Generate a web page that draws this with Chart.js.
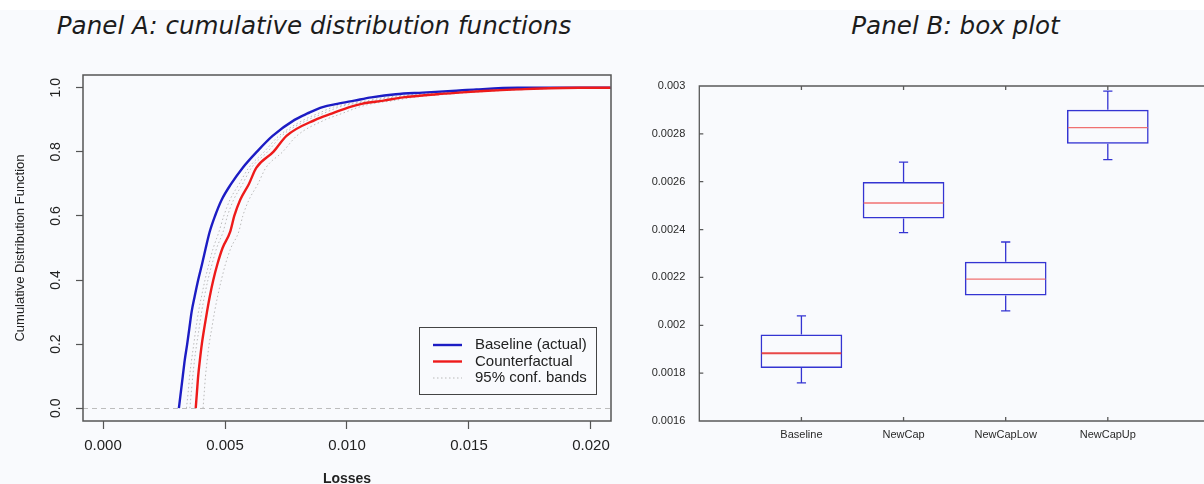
<!DOCTYPE html>
<html>
<head>
<meta charset="utf-8">
<script src="https://cdn.jsdelivr.net/npm/chart.js@4/dist/chart.umd.min.js"></script>
<style>
  html, body { margin: 0; padding: 0; width: 1204px; height: 484px; overflow: hidden; background: #f9fafd; }
  .strip { position: absolute; left: 0; top: 0; width: 1204px; height: 10px; background: #ffffff; }
  .panel-title { position: absolute; top: 10.5px; font-family: 'DejaVu Sans'; font-style: italic; font-size: 24.6px;
                 color: #1c1c1c; white-space: nowrap; transform: translateX(-50%); line-height: normal; }
  #wrapA { position: absolute; left: 0; top: 0; width: 620px; height: 488px; }
  #wrapB { position: absolute; left: 620px; top: 0; width: 641px; height: 484px; }
</style>
</head>
<body>
<div class="strip"></div>
<div class="panel-title" style="left:314px">Panel A: cumulative distribution functions</div>
<div class="panel-title" style="left:955.5px">Panel B: box plot</div>
<div id="wrapA"><canvas id="cdfChart" width="620" height="488"></canvas></div>
<div id="wrapB"><canvas id="boxChart" width="641" height="484"></canvas></div>

<script>
// ---- Panel A: empirical CDFs of losses ----
const cdfLevels = [0, 0.05, 0.1, 0.15, 0.2, 0.25, 0.3, 0.35, 0.4, 0.45, 0.5, 0.55, 0.6, 0.65, 0.7,
                   0.75, 0.8, 0.85, 0.9, 0.92, 0.94, 0.95, 0.96, 0.97, 0.98, 0.985, 0.99, 0.995, 1, 1];
const baselineLosses = [0.00311, 0.00319, 0.00327, 0.00335, 0.00345, 0.00354, 0.00363, 0.00376, 0.00390, 0.00406,
                        0.00421, 0.00437, 0.00459, 0.00486, 0.00525, 0.00572, 0.00630, 0.00695, 0.00785, 0.00838,
                        0.00900, 0.00960, 0.01030, 0.01100, 0.01200, 0.01310, 0.01430, 0.01530, 0.01700, 0.02080];
const counterfactualLosses = [0.00380, 0.00385, 0.00390, 0.00397, 0.00405, 0.00415, 0.00426, 0.00438, 0.00452, 0.00469,
                              0.00490, 0.00521, 0.00538, 0.00562, 0.00598, 0.00628, 0.00698, 0.00752, 0.00870, 0.00940,
                              0.01010, 0.01060, 0.01150, 0.01230, 0.01370, 0.01460, 0.01560, 0.01700, 0.01950, 0.02080];
const bandInnerLosses = [0.00342, 0.00349, 0.00355, 0.00363, 0.00372, 0.00381, 0.00391, 0.00404, 0.00418, 0.00434,
                         0.00452, 0.00475, 0.00495, 0.00520, 0.00558, 0.00597, 0.00660, 0.00721, 0.00823, 0.00882,
                         0.00944, 0.01005, 0.01084, 0.01159, 0.01277, 0.01378, 0.01489, 0.01607, 0.01813, 0.02080];
const bandMiddleLosses = [0.00356, 0.00362, 0.00368, 0.00375, 0.00384, 0.00394, 0.00404, 0.00416, 0.00430, 0.00447,
                          0.00466, 0.00492, 0.00510, 0.00535, 0.00572, 0.00608, 0.00674, 0.00732, 0.00840, 0.00903,
                          0.00968, 0.01025, 0.01108, 0.01185, 0.01311, 0.01408, 0.01515, 0.01641, 0.01863, 0.02080];
const bandOuterLosses = [0.00410, 0.00415, 0.00420, 0.00427, 0.00435, 0.00446, 0.00457, 0.00470, 0.00485, 0.00502,
                         0.00524, 0.00556, 0.00573, 0.00598, 0.00635, 0.00667, 0.00736, 0.00794, 0.00910, 0.00980,
                         0.01050, 0.01100, 0.01190, 0.01270, 0.01410, 0.01500, 0.01600, 0.01740, 0.02000, 0.02080];

const lossTicks = [0, 0.005, 0.01, 0.015, 0.02];
const lossTickLabels = ['0.000', '0.005', '0.010', '0.015', '0.020'];
const cdfTicks = [0, 0.2, 0.4, 0.6, 0.8, 1];
const cdfTickLabels = ['0.0', '0.2', '0.4', '0.6', '0.8', '1.0'];

// ---- Panel B: box plot summaries ----
const groups = ['Baseline', 'NewCap', 'NewCapLow', 'NewCapUp'];
const whiskerLow = [0.001759, 0.002387, 0.002060, 0.002692];
const quartile1 = [0.001822, 0.002446, 0.002125, 0.002759];
const medians = [0.001883, 0.002511, 0.002193, 0.002826];
const quartile3 = [0.001961, 0.002599, 0.002266, 0.002901];
const whiskerHigh = [0.002039, 0.002682, 0.002348, 0.002979];
const valueTicks = [0.0016, 0.0018, 0.002, 0.0022, 0.0024, 0.0026, 0.0028, 0.003];
const valueTickLabels = ['0.0016', '0.0018', '0.002', '0.0022', '0.0024', '0.0026', '0.0028', '0.003'];

Chart.defaults.font.family = "'Liberation Sans', Arial, sans-serif";
Chart.defaults.color = '#222';

const toPoints = (xs) => xs.map((x, i) => ({ x: x, y: cdfLevels[i] }));

// R-style frame around the plotting region
const framePlugin = {
  id: 'frame',
  afterDraw(chart) {
    const { ctx, chartArea: a } = chart;
    ctx.save();
    ctx.strokeStyle = '#555';
    ctx.lineWidth = 1.5;
    ctx.strokeRect(a.left, a.top, a.right - a.left, a.bottom - a.top);
    ctx.restore();
  }
};

// y tick labels written parallel to the axis
const rotatedYLabels = {
  id: 'rotatedYLabels',
  afterDraw(chart) {
    const { ctx, chartArea: a } = chart;
    const y = chart.scales.y;
    ctx.save();
    ctx.font = "14px 'Liberation Sans', Arial, sans-serif";
    ctx.fillStyle = '#222';
    ctx.textAlign = 'center';
    ctx.textBaseline = 'middle';
    y.ticks.forEach((t, i) => {
      ctx.save();
      ctx.translate(a.left - 27, y.getPixelForValue(t.value));
      ctx.rotate(-Math.PI / 2);
      ctx.fillText(cdfTickLabels[i], 0, 0);
      ctx.restore();
    });
    ctx.restore();
  }
};

// boxed legend in the lower right corner of the plot
const boxedLegend = {
  id: 'boxedLegend',
  afterDatasetsDraw(chart) {
    const { ctx, chartArea: a } = chart;
    const entries = chart.data.datasets.filter(d => d.legendText);
    const w = 177, h = 67;
    const left = a.right - 15 - w, top = a.bottom - 27 - h;
    ctx.save();
    ctx.fillStyle = '#f9fafd';
    ctx.fillRect(left, top, w, h);
    ctx.strokeStyle = '#444';
    ctx.lineWidth = 1;
    ctx.strokeRect(left + 0.5, top + 0.5, w, h);
    ctx.font = "15px 'Liberation Sans', Arial, sans-serif";
    ctx.textBaseline = 'middle';
    entries.forEach((d, i) => {
      const yy = top + 18 + i * 16.5;
      ctx.strokeStyle = d.borderColor;
      ctx.lineWidth = d.borderWidth;
      ctx.setLineDash(d.borderDash || []);
      ctx.beginPath();
      ctx.moveTo(left + 14, yy);
      ctx.lineTo(left + 43, yy);
      ctx.stroke();
      ctx.setLineDash([]);
      ctx.fillStyle = '#222';
      ctx.fillText(d.legendText, left + 56, yy);
    });
    ctx.restore();
  }
};

const bandStyle = { borderColor: '#b9b9b9', borderWidth: 1, borderDash: [1.5, 2.5], order: 3 };

new Chart(document.getElementById('cdfChart'), {
  type: 'line',
  data: {
    datasets: [
      { label: 'Baseline (actual)', legendText: 'Baseline (actual)', data: toPoints(baselineLosses),
        borderColor: '#1c1cc4', borderWidth: 2.4, order: 2 },
      { label: 'Counterfactual', legendText: 'Counterfactual', data: toPoints(counterfactualLosses),
        borderColor: '#ee1a1a', borderWidth: 2.4, order: 1 },
      Object.assign({ label: '95% conf. bands', legendText: '95% conf. bands', data: toPoints(bandInnerLosses) }, bandStyle),
      Object.assign({ label: '95% conf. bands (mid)', data: toPoints(bandMiddleLosses) }, bandStyle),
      Object.assign({ label: '95% conf. bands (outer)', data: toPoints(bandOuterLosses) }, bandStyle)
    ]
  },
  options: {
    responsive: false,
    animation: false,
    devicePixelRatio: 1,
    elements: { point: { radius: 0 }, line: { cubicInterpolationMode: 'monotone', fill: false } },
    layout: { padding: { top: 75, right: 9, left: 0, bottom: 0 } },
    plugins: { legend: { display: false }, tooltip: { enabled: false } },
    scales: {
      x: {
        type: 'linear', min: -0.00082, max: 0.02082,
        afterBuildTicks: s => { s.ticks = lossTicks.map(v => ({ value: v })); },
        afterFit: s => { s.height = 67; },
        ticks: { callback: (v, i) => lossTickLabels[i], font: { size: 15 }, color: '#222',
                 padding: 8, maxRotation: 0, autoSkip: false },
        grid: { drawOnChartArea: false, drawTicks: true, tickLength: 8, tickColor: '#555', tickWidth: 1.2 },
        border: { display: false },
        title: { display: true, text: 'Losses', font: { size: 14, weight: 'bold' }, color: '#222',
                 padding: { top: 0, bottom: 0 } }
      },
      y: {
        type: 'linear', min: -0.04, max: 1.04,
        afterBuildTicks: s => { s.ticks = cdfTicks.map(v => ({ value: v })); },
        afterFit: s => { s.width = 83; },
        ticks: { display: false },
        grid: {
          drawOnChartArea: true, drawTicks: true, tickLength: 7, tickColor: '#555', tickWidth: 1.2,
          color: c => (c.tick && c.tick.value === 0 ? '#bdbdbd' : 'rgba(0,0,0,0)'), lineWidth: 1
        },
        border: { display: false, dash: [5, 4] },
        title: { display: true, text: 'Cumulative Distribution Function', font: { size: 13 }, color: '#222',
                 padding: { top: 13, bottom: 0 } }
      }
    }
  },
  plugins: [framePlugin, rotatedYLabels, boxedLegend]
});

// ---- Panel B chart ----
const boxColor = '#3434d2';
const medianColor = '#f07070';

const boxParts = {
  id: 'boxParts',
  afterDatasetsDraw(chart) {
    const { ctx } = chart;
    const y = chart.scales.y;
    const meta = chart.getDatasetMeta(0);
    ctx.save();
    meta.data.forEach((bar, i) => {
      const cx = bar.x, half = bar.width / 2, cap = 4.6;
      const yHi = y.getPixelForValue(whiskerHigh[i]);
      const yQ3 = y.getPixelForValue(quartile3[i]);
      const yQ1 = y.getPixelForValue(quartile1[i]);
      const yLo = y.getPixelForValue(whiskerLow[i]);
      const yMed = y.getPixelForValue(medians[i]);
      ctx.strokeStyle = boxColor;
      ctx.lineWidth = 1.3;
      ctx.beginPath();
      ctx.moveTo(cx, yQ3); ctx.lineTo(cx, yHi);
      ctx.moveTo(cx - cap, yHi); ctx.lineTo(cx + cap, yHi);
      ctx.moveTo(cx, yQ1); ctx.lineTo(cx, yLo);
      ctx.moveTo(cx - cap, yLo); ctx.lineTo(cx + cap, yLo);
      ctx.stroke();
      ctx.strokeStyle = i === 0 ? '#e84848' : medianColor;
      ctx.lineWidth = i === 0 ? 2 : 1.3;
      ctx.beginPath();
      ctx.moveTo(cx - half + 1, yMed); ctx.lineTo(cx + half - 1, yMed);
      ctx.stroke();
    });
    ctx.restore();
  }
};

// axes lines with inward tick marks
const inwardAxes = {
  id: 'inwardAxes',
  afterDraw(chart) {
    const { ctx, chartArea: a } = chart;
    const x = chart.scales.x, y = chart.scales.y;
    ctx.save();
    ctx.strokeStyle = '#5a5a5a';
    ctx.lineWidth = 1.3;
    ctx.beginPath();
    ctx.moveTo(a.right, a.top); ctx.lineTo(a.left, a.top); ctx.lineTo(a.left, a.bottom); ctx.lineTo(a.right, a.bottom);
    x.ticks.forEach(t => {
      const px = x.getPixelForValue(t.value);
      ctx.moveTo(px, a.bottom); ctx.lineTo(px, a.bottom - 4);
      ctx.moveTo(px, a.top); ctx.lineTo(px, a.top + 4);
    });
    y.ticks.forEach(t => {
      const py = y.getPixelForValue(t.value);
      ctx.moveTo(a.left, py); ctx.lineTo(a.left + 4, py);
    });
    ctx.stroke();
    ctx.restore();
  }
};

new Chart(document.getElementById('boxChart'), {
  type: 'bar',
  data: {
    datasets: [{
      label: 'Interquartile range',
      data: groups.map((g, i) => ({ x: i + 1, y: [quartile1[i], quartile3[i]] })),
      backgroundColor: 'rgba(0,0,0,0)',
      borderColor: boxColor,
      borderWidth: 1.5,
      borderSkipped: false,
      barPercentage: 0.8,
      categoryPercentage: 1.0
    }]
  },
  options: {
    responsive: false,
    animation: false,
    devicePixelRatio: 1,
    layout: { padding: { top: 86, right: 0, left: 0, bottom: 0 } },
    plugins: { legend: { display: false }, tooltip: { enabled: false } },
    scales: {
      x: {
        type: 'linear', min: 0, max: 5.5, offset: false,
        afterBuildTicks: s => { s.ticks = groups.map((g, i) => ({ value: i + 1 })); },
        afterFit: s => { s.height = 63; },
        ticks: { callback: (v, i) => groups[i], font: { size: 11 }, color: '#2a2a2a',
                 padding: -1, maxRotation: 0, autoSkip: false },
        grid: { display: false },
        border: { display: false }
      },
      y: {
        type: 'linear', min: 0.0016, max: 0.003,
        afterBuildTicks: s => { s.ticks = valueTicks.map(v => ({ value: v })); },
        afterFit: s => { s.width = 79.3; },
        ticks: { callback: (v, i) => valueTickLabels[i], font: { size: 11 }, color: '#2a2a2a', padding: 6 },
        grid: { display: false },
        border: { display: false }
      }
    }
  },
  plugins: [boxParts, inwardAxes]
});
</script>
</body>
</html>
